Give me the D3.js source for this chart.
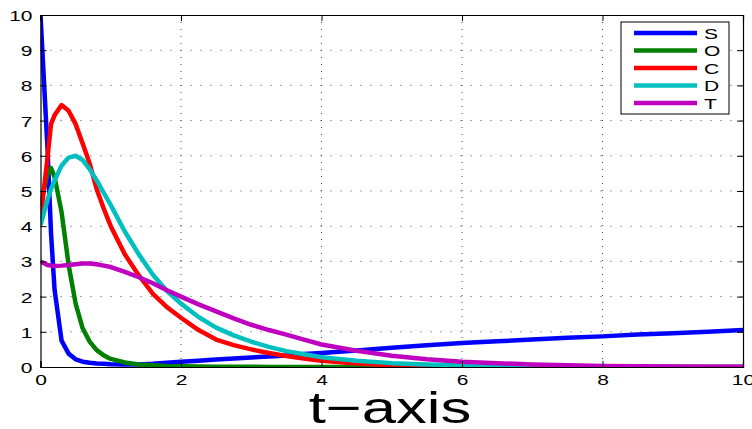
<!DOCTYPE html>
<html>
<head>
<meta charset="utf-8">
<script src="https://cdn.jsdelivr.net/npm/d3@7"></script>
<style>
  body { margin: 0; background: #fff; }
  svg { display: block; font-family: "Liberation Sans", Arial, sans-serif; }
</style>
</head>
<body>
<svg id="chart" width="752" height="429"></svg>
<script>
// time samples and the five series
const tValues = [0, 0.1, 0.15, 0.2, 0.3, 0.4, 0.5, 0.6, 0.7, 0.8, 0.9, 1.0, 1.2, 1.4, 1.6, 1.8, 2.0,
  2.25, 2.5, 2.75, 3, 3.25, 3.5, 3.75, 4, 4.5, 5, 5.5, 6, 6.5, 7, 7.5, 8, 8.5, 9, 9.5, 10];
const sValues = [10, 6.2, 3.8, 2.2, 0.75, 0.38, 0.22, 0.15, 0.12, 0.1, 0.09, 0.08, 0.07, 0.07, 0.09, 0.12, 0.15,
  0.18, 0.21, 0.24, 0.27, 0.30, 0.33, 0.37, 0.40, 0.47, 0.55, 0.62, 0.68, 0.73, 0.78, 0.83, 0.87, 0.92, 0.96, 1.0, 1.05];
const oValues = [4.6, 5.5, 5.65, 5.4, 4.4, 2.9, 1.8, 1.1, 0.72, 0.48, 0.33, 0.23, 0.13, 0.07, 0.05, 0.03, 0.02,
  0.015, 0.01, 0.007, 0.005, 0.003, 0, 0, 0, 0, 0, 0, 0, 0, 0, 0, 0, 0, 0, 0, 0];
const cValues = [4.2, 5.95, 6.9, 7.15, 7.44, 7.28, 6.9, 6.35, 5.78, 5.05, 4.5, 4.0, 3.2, 2.6, 2.08, 1.7, 1.4,
  1.05, 0.78, 0.62, 0.5, 0.4, 0.31, 0.24, 0.18, 0.1, 0.05, 0.03, 0.015, 0.01, 0.005, 0, 0, 0, 0, 0, 0];
const dValues = [4.03, 4.75, 5.05, 5.3, 5.72, 5.95, 6.0, 5.88, 5.62, 5.3, 4.95, 4.6, 3.85, 3.2, 2.62, 2.16, 1.8,
  1.42, 1.12, 0.9, 0.72, 0.57, 0.45, 0.36, 0.28, 0.18, 0.11, 0.07, 0.05, 0.03, 0.02, 0.015, 0.01, 0.005, 0.003, 0, 0];
const tSeriesValues = [3.0, 2.9, 2.88, 2.87, 2.88, 2.9, 2.92, 2.94, 2.94, 2.92, 2.88, 2.84, 2.7, 2.55, 2.38, 2.18, 2.0,
  1.78, 1.58, 1.38, 1.2, 1.05, 0.92, 0.78, 0.64, 0.46, 0.32, 0.22, 0.15, 0.11, 0.07, 0.05, 0.03, 0.02, 0.015, 0.01, 0.01];

const seriesNames = ["S", "O", "C", "D", "T"];
const seriesColors = ["#0000ff", "#008000", "#ff0000", "#00bfbf", "#bf00bf"];
const xTicks = [0, 2, 4, 6, 8, 10];
const yTicks = [0, 1, 2, 3, 4, 5, 6, 7, 8, 9, 10];
const xLabel = "t\u2212axis";

const series = [sValues, oValues, cValues, dValues, tSeriesValues].map((vals, i) => ({
  name: seriesNames[i],
  color: seriesColors[i],
  points: tValues.map((t, j) => ({ t: t, v: vals[j] }))
}));

const margin = { left: 40.5, right: 9, top: 15, bottom: 62 };
const width = 752, height = 429;
const drawWidth = width - margin.left - margin.right;
const drawHeight = height - margin.top - margin.bottom;
const stretch = 1.4; // text in the picture is widened horizontally

const svg = d3.select("#chart");
const g = svg.append("g").attr("transform", `translate(${margin.left},${margin.top})`);

const xScale = d3.scaleLinear().domain([0, 10]).range([0, drawWidth]);
const yScale = d3.scaleLinear().domain([0, 10]).range([drawHeight, 0]);

// dotted grid
g.append("g").selectAll("line.hgrid").data(yTicks.filter(d => d > 0 && d < 10)).enter().append("line")
  .attr("x1", 0).attr("x2", drawWidth)
  .attr("y1", d => yScale(d)).attr("y2", d => yScale(d))
  .attr("stroke", "#444").attr("stroke-width", 1).attr("stroke-dasharray", "1,9");
g.append("g").selectAll("line.vgrid").data(xTicks.filter(d => d > 0 && d < 10)).enter().append("line")
  .attr("x1", d => xScale(d)).attr("x2", d => xScale(d))
  .attr("y1", 0).attr("y2", drawHeight)
  .attr("stroke", "#444").attr("stroke-width", 1).attr("stroke-dasharray", "1,6");

// curves
svg.append("defs").append("clipPath").attr("id", "clip")
  .append("rect").attr("x", 0).attr("y", 0).attr("width", drawWidth).attr("height", drawHeight);

const line = d3.line().x(d => xScale(d.t)).y(d => yScale(d.v));
g.append("g").attr("clip-path", "url(#clip)").selectAll("path").data(series).enter().append("path")
  .attr("d", d => line(d.points))
  .attr("fill", "none")
  .attr("stroke", d => d.color)
  .attr("stroke-width", 4.5)
  .attr("stroke-linejoin", "round");

// axes with inward ticks on all four sides
const styleText = sel => sel.selectAll("text")
  .attr("font-size", 15)
  .attr("fill", "#000");

const xAxis = g.append("g").attr("transform", `translate(0,${drawHeight})`)
  .call(d3.axisBottom(xScale).tickValues(xTicks).tickSize(-6).tickFormat(d3.format("d")));
xAxis.selectAll("text").attr("x", 0).attr("y", 18).attr("dy", 0)
  .attr("transform", `scale(${stretch},1)`);
styleText(xAxis);

const yAxis = g.append("g")
  .call(d3.axisLeft(yScale).tickValues(yTicks).tickSize(-6).tickFormat(d3.format("d")));
yAxis.selectAll("text").attr("x", -8 / stretch).attr("dy", "0.36em")
  .attr("transform", `scale(${stretch},1)`);
styleText(yAxis);

g.append("g").call(d3.axisTop(xScale).tickValues(xTicks).tickSize(-6).tickFormat(""));
g.append("g").attr("transform", `translate(${drawWidth},0)`)
  .call(d3.axisRight(yScale).tickValues(yTicks).tickSize(-6).tickFormat(""));

svg.selectAll(".domain").attr("stroke", "#000").attr("stroke-width", 1.2);
svg.selectAll(".tick line").attr("stroke", "#000");

// x label
svg.append("text")
  .attr("transform", `translate(390,423) scale(${stretch},1)`)
  .attr("text-anchor", "middle")
  .attr("font-size", 44)
  .text(xLabel);

// legend
const legend = svg.append("g").attr("transform", "translate(621,22)");
legend.append("rect").attr("width", 108).attr("height", 92)
  .attr("fill", "#fff").attr("stroke", "#000").attr("stroke-width", 1);
const rows = legend.selectAll("g.row").data(series).enter().append("g")
  .attr("transform", (d, i) => `translate(0,${11 + i * 17.5})`);
rows.append("line").attr("x1", 13).attr("x2", 76).attr("y1", 0).attr("y2", 0)
  .attr("stroke", d => d.color).attr("stroke-width", 4.5);
rows.append("text")
  .attr("transform", `translate(83,5.5) scale(${stretch},1)`)
  .attr("font-size", 15)
  .text(d => d.name);
</script>
</body>
</html>
